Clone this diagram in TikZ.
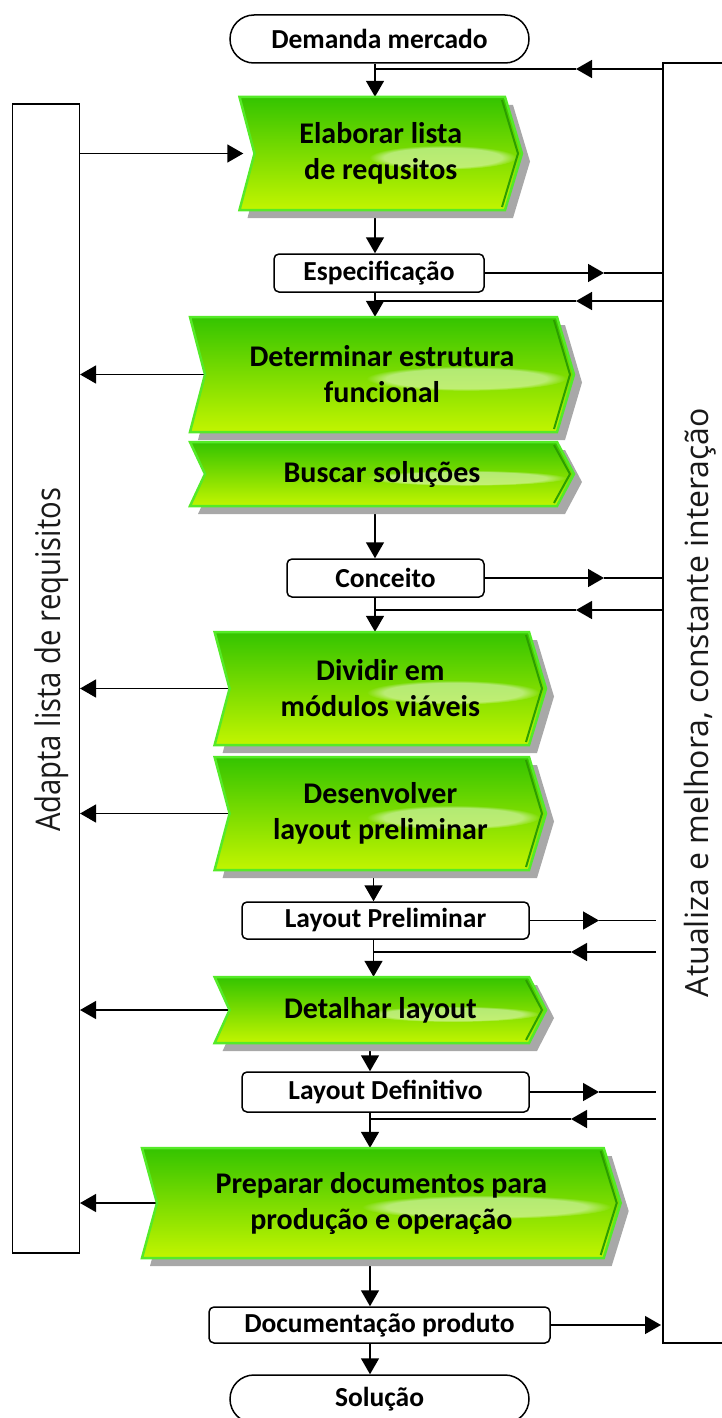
\documentclass[tikz,border=0pt]{standalone}
\usepackage{fontspec}
\setmainfont{Carlito}
\newfontfamily\sidefont{Open Sans}
\newfontfamily\sidefontnarrow{Open Sans}[FakeStretch=0.86]
\usetikzlibrary{arrows.meta,fadings,backgrounds}

\definecolor{gtop}{HTML}{34C400}
\definecolor{gmid}{HTML}{7CDC00}
\definecolor{gbot}{HTML}{C2F500}
\definecolor{gedge}{HTML}{55EA28}
\definecolor{gdark}{HTML}{2C9E00}
\definecolor{shadowgray}{HTML}{A8A8A8}

\tikzset{
  conn/.style={draw=black, line width=1.5pt},
  tipped/.style={conn, -{Triangle[length=16pt,width=18pt]}},
  stepbox/.style={inner sep=0pt, align=center, font=\fontsize{30}{36}\selectfont\bfseries},
  docbox/.style={draw, line width=1.5pt, rounded corners=5pt, inner sep=0pt,
    font=\fontsize{27.5}{33}\selectfont\bfseries},
  termbox/.style={docbox, rounded corners=24pt},
  sidebox/.style={draw, line width=1.5pt, inner sep=0pt},
}

% green process step: name, left, top, tip, bottom, label
\newcommand{\greenstep}[6]{%
  \pgfmathsetmacro{\gm}{(#3+#5)/2}%
  \pgfmathsetmacro{\gw}{#4-#2}%
  \pgfmathsetmacro{\gh}{#5-#3}%
  \fill[shadowgray, shift={(8,8)}] (#2,#3) -- ({#4-17},#3) -- (#4,\gm) -- ({#4-17},#5) -- (#2,#5) -- ({#2+15},\gm) -- cycle;
  \shade[top color=gtop, bottom color=gbot, middle color=gmid] (#2,#3) -- ({#4-17},#3) -- (#4,\gm) -- ({#4-17},#5) -- (#2,#5) -- ({#2+15},\gm) -- cycle;
  \fill[white, opacity=.45, path fading=circle with fuzzy edge 20 percent] ({#2+0.72*\gw},{\gm+4}) ellipse ({0.26*\gw} and {0.09*\gh+2});
  \draw[gdark, line width=2pt] ({#4-20},{#3+3}) -- ({#4-4},\gm) -- ({#4-20},{#5-3});
  \draw[gedge, line width=2.5pt, line join=miter] (#2,#3) -- ({#4-17},#3) -- (#4,\gm) -- ({#4-17},#5) -- (#2,#5) -- ({#2+15},\gm) -- cycle;
  \node[stepbox, minimum width={\gw pt}, minimum height={\gh pt}] (#1) at ({(#2+#4)/2},\gm) {#6};
}

\begin{document}
\begin{tikzpicture}[x=1pt, y=-1pt]
\useasboundingbox (0,0) rectangle (722,1418);

% side frames
\node[sidebox, minimum width=79pt, minimum height=1280pt] (rr) at (702.5,703) {};
\node[sidebox, minimum width=66.6pt, minimum height=1149pt] (lr) at (46,678.5) {};
\node[rotate=90, anchor=base, text=black!90, font=\sidefontnarrow\fontsize{34}{40}\selectfont] (lt) at (60,660) {Adapta lista de requisitos};
\node[rotate=90, anchor=base, text=black!90, font=\sidefont\fontsize{32}{38}\selectfont] (rt) at (708,702.5) {Atualiza e melhora, constante interação};

% start and end
\node[termbox, minimum width=299pt, minimum height=48pt] (dem) at (379.5,39) {Demanda mercado};
\node[termbox, minimum width=299pt, minimum height=48pt] (sol) at (379.5,1399) {Solução};

% documents
\node[docbox, minimum width=210pt, minimum height=38pt] (spec) at (379,273) {Especificação};
\node[docbox, minimum width=197pt, minimum height=38pt] (conc) at (385.5,578) {Conceito};
\node[docbox, minimum width=287pt, minimum height=37pt] (lp) at (385.5,920.5) {Layout Preliminar};
\node[docbox, minimum width=287pt, minimum height=40pt] (ld) at (385.5,1092) {Layout Definitivo};
\node[docbox, minimum width=341pt, minimum height=36pt] (doc) at (379.5,1325) {Documentação produto};

% process steps
\greenstep{elab}{239.5}{97}{522}{210}{Elaborar lista\\de requsitos}
\greenstep{det}{190}{317}{574}{432}{Determinar estrutura\\funcional}
\greenstep{busc}{190}{442}{574}{506}{Buscar soluções}
\greenstep{div}{214.6}{632}{546}{745}{Dividir em\\módulos viáveis}
\greenstep{desv}{214.6}{757}{546}{870}{Desenvolver\\layout preliminar}
\greenstep{detl}{214.6}{977}{546}{1043}{Detalhar layout}
\greenstep{prep}{142}{1148}{620.7}{1258}{Preparar documentos para\\produção e operação}

% guide positions for the connectors
\coordinate (m1) at (375,0);
\coordinate (m2) at (373.5,0);
\coordinate (m3) at (370,0);
\coordinate (tl) at (576,0);
\coordinate (tr) at (604,0);
\coordinate (tl2) at (571,0);
\coordinate (tr2) at (599,0);
\coordinate (gap) at (656,0);
\coordinate (gapdoc) at (661,0);
\coordinate (fb0) at (663,69);
\coordinate (fb1) at (663,301);
\coordinate (fb2) at (663,610);
\coordinate (fb3) at (656,952);
\coordinate (fb4) at (656,1119);

\begin{pgfonlayer}{background}
% main flow
\draw[tipped] (dem.south -| m1) -- (elab.north -| m1);
\draw[tipped] (elab.south -| m1) -- (spec.north -| m1);
\draw[tipped] (spec.south -| m1) -- (det.north -| m1);
\draw[tipped] (busc.south -| m1) -- (conc.north -| m1);
\draw[tipped] (conc.south -| m1) -- (div.north -| m1);
\draw[tipped] (desv.south -| m2) -- (lp.north -| m2);
\draw[tipped] (lp.south -| m2) -- (detl.north -| m2);
\draw[tipped] (detl.south -| m3) -- (ld.north -| m3);
\draw[tipped] (ld.south -| m3) -- (prep.north -| m3);
\draw[tipped] (prep.south -| m3) -- (doc.north -| m3);
\draw[tipped] (doc.south -| m3) -- (sol.north -| m3);

% feedback from the update frame
\draw[tipped] (fb0) -- (fb0 -| tl);
\draw[conn] (fb0 -| tl) -- (fb0 -| m1);
\draw[tipped] (fb1) -- (fb1 -| tl);
\draw[conn] (fb1 -| tl) -- (fb1 -| m1);
\draw[tipped] (fb2) -- (fb2 -| tl);
\draw[conn] (fb2 -| tl) -- (fb2 -| m1);
\draw[tipped] (fb3) -- (fb3 -| tl2);
\draw[conn] (fb3 -| tl2) -- (fb3 -| m2);
\draw[tipped] (fb4) -- (fb4 -| tl2);
\draw[conn] (fb4 -| tl2) -- (fb4 -| m3);

% documents sent to the update frame
\draw[tipped] (spec.east) -- (spec.east -| tr);
\draw[conn] (spec.east -| tr) -- (spec.east -| rr.west);
\draw[tipped] (conc.east) -- (conc.east -| tr);
\draw[conn] (conc.east -| tr) -- (conc.east -| rr.west);
\draw[tipped] (lp.east) -- (lp.east -| tr2);
\draw[conn] (lp.east -| tr2) -- (lp.east -| gap);
\draw[tipped] (ld.east) -- (ld.east -| tr2);
\draw[conn] (ld.east -| tr2) -- (ld.east -| gap);
\draw[tipped] (doc.east) -- (doc.east -| gapdoc);

% requirement list adaptation
\draw[tipped] (elab.west -| lr.east) -- ([xshift=4pt]elab.west);
\draw[tipped] ([xshift=15pt]det.west) -- (det.west -| lr.east);
\draw[tipped] ([xshift=15pt]div.west) -- (div.west -| lr.east);
\draw[tipped] ([xshift=15pt]desv.west) -- (desv.west -| lr.east);
\draw[tipped] ([xshift=15pt]detl.west) -- (detl.west -| lr.east);
\draw[tipped] ([xshift=15pt]prep.west) -- (prep.west -| lr.east);
\end{pgfonlayer}
\end{tikzpicture}
\end{document}
